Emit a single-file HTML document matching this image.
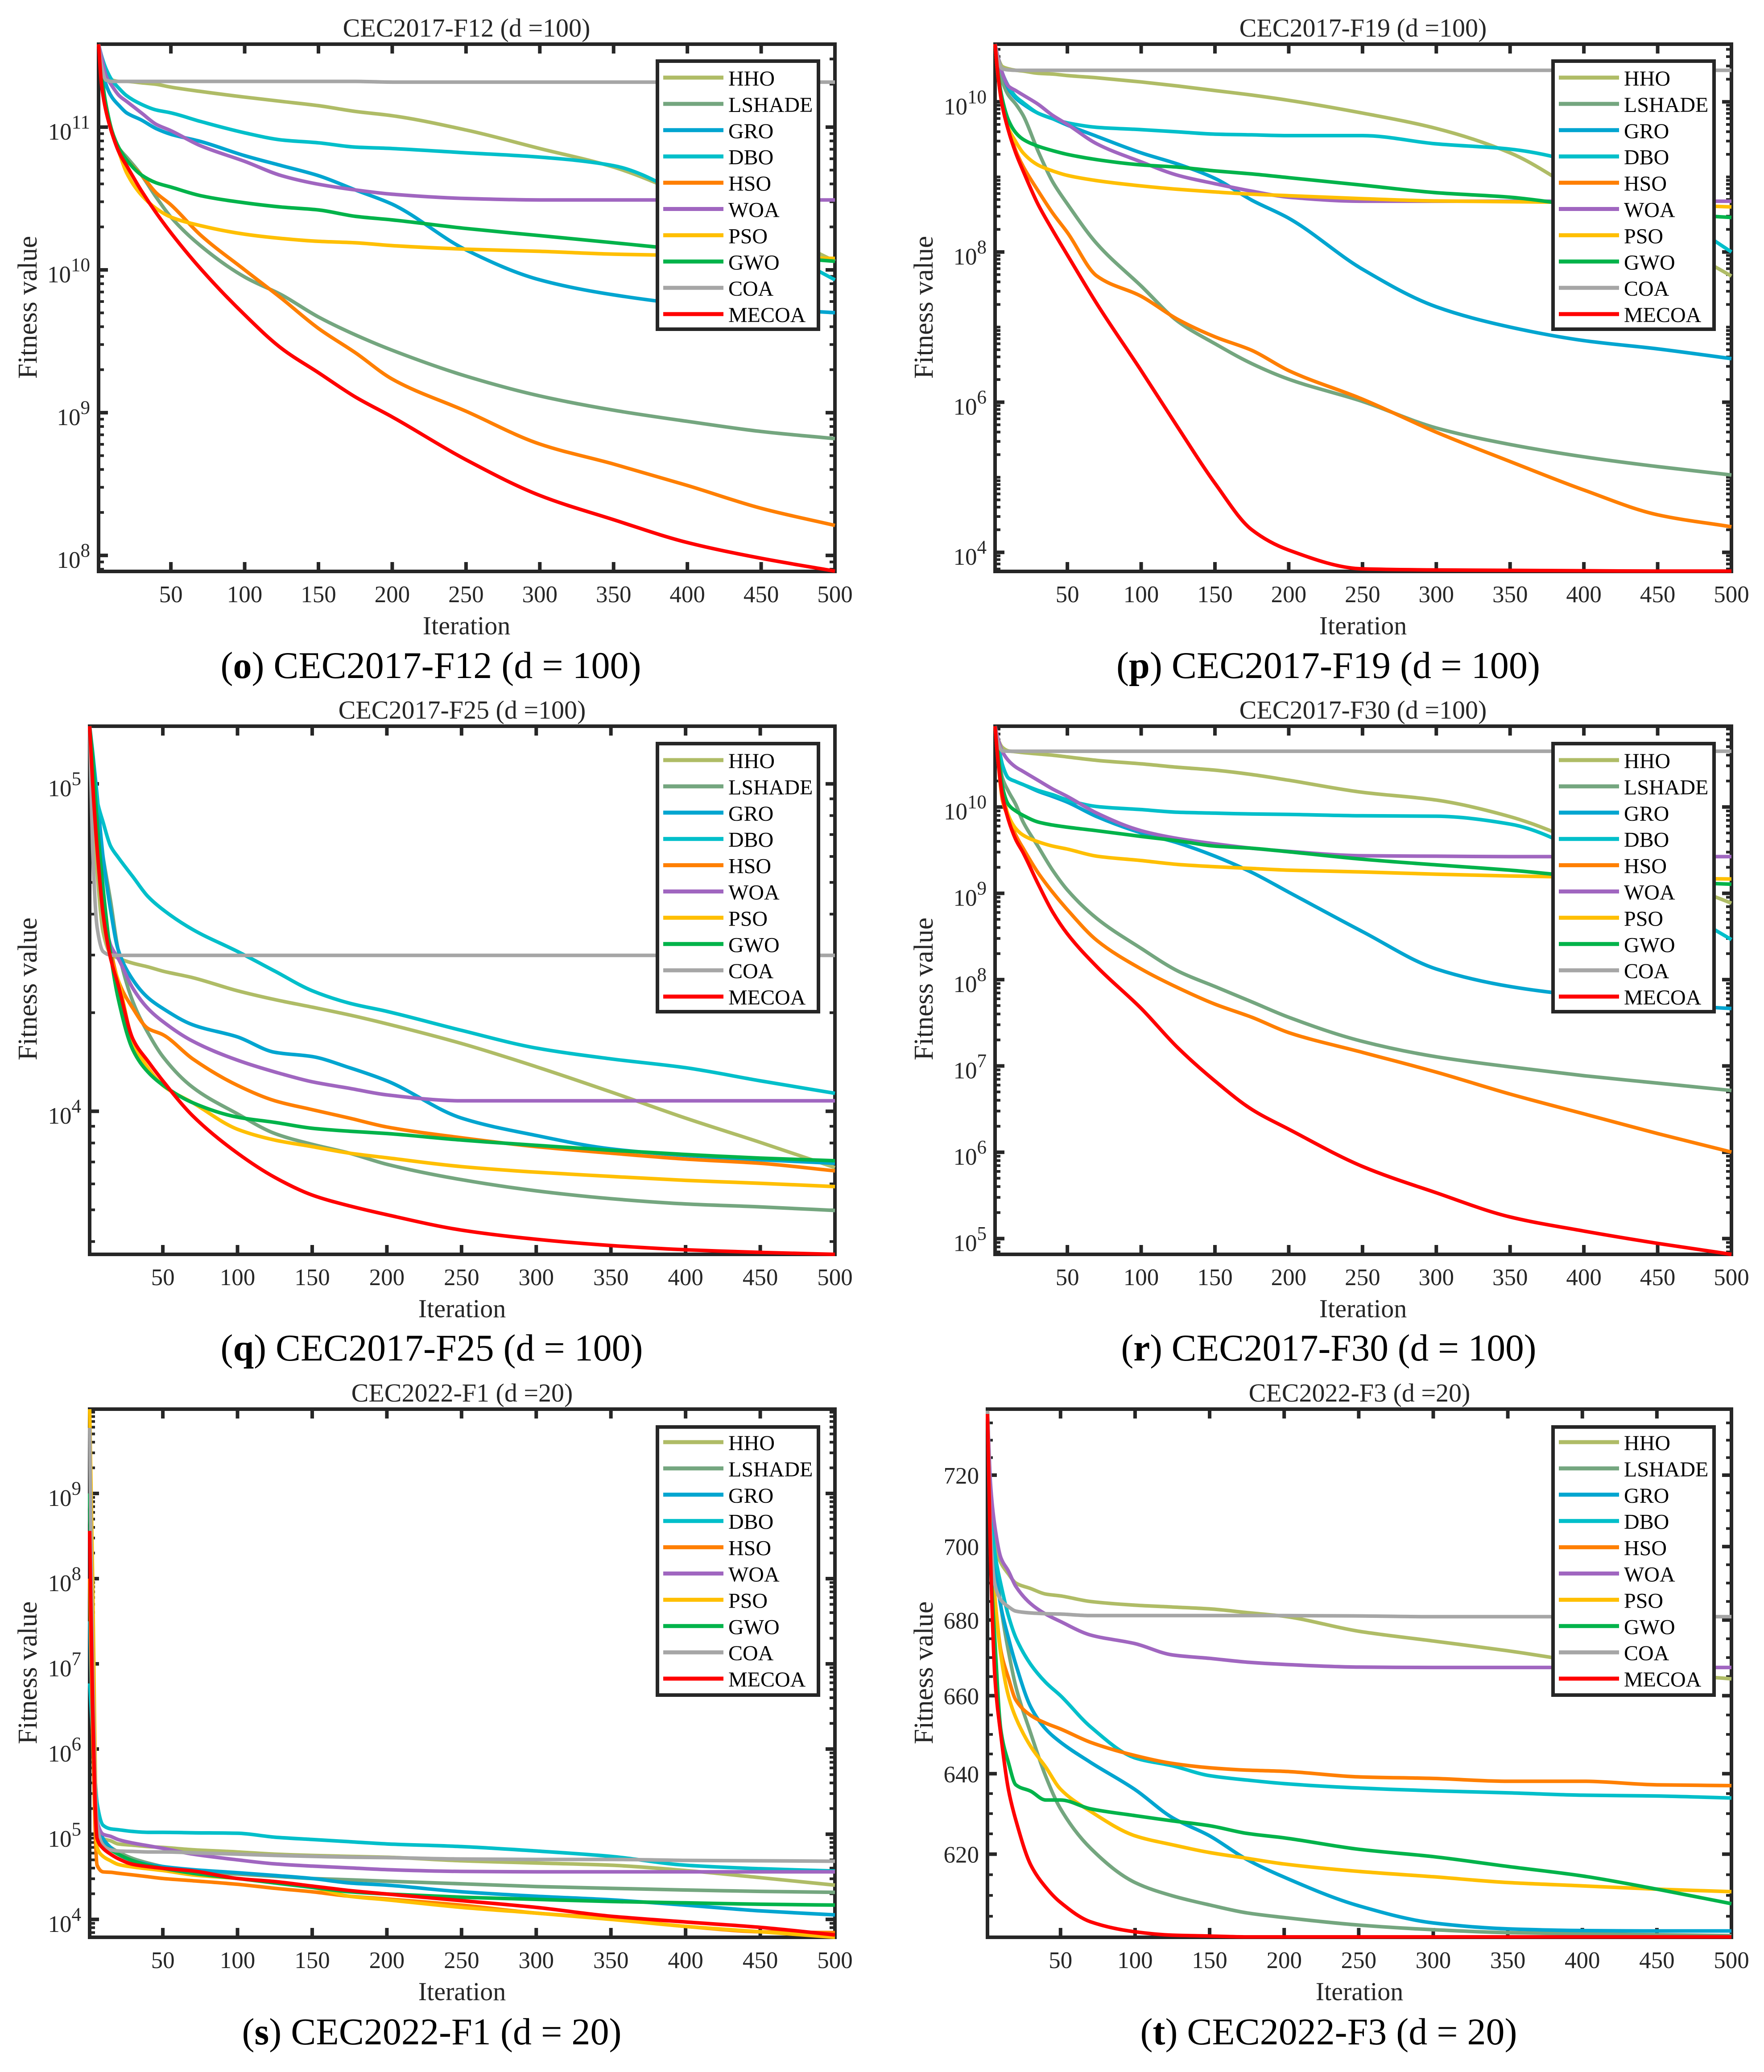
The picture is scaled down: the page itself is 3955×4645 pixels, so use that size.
<!DOCTYPE html>
<html lang="en">
<head>
<meta charset="utf-8">
<title>Convergence curves CEC2017 / CEC2022</title>
<style>
html,body{margin:0;padding:0;background:#fff;}
svg{display:block;}
text{font-family:"Liberation Serif",serif;fill:#262626;}
.title{font-size:58px;text-anchor:middle;}
.xlabel{font-size:58px;text-anchor:middle;}
.ylabel{font-size:61px;text-anchor:middle;}
.caption{font-size:85px;text-anchor:middle;fill:#000;}
.caption .letter{font-weight:bold;}
.tick-label{font-size:53px;}
.legend-label{font-size:48px;fill:#000;}
.curve{fill:none;stroke-width:8;stroke-linejoin:round;stroke-linecap:butt;}
.legend-line{stroke-width:9;}
.frame,.legend-box{stroke:#262626;stroke-width:8;}
.frame{fill:none;}
.legend-box{fill:#fff;}
.tick-major{stroke:#262626;stroke-width:8;}
.tick-minor{stroke:#262626;stroke-width:6;}
.c-HHO{stroke:#AFBC66;}
.c-LSHADE{stroke:#74A67F;}
.c-GRO{stroke:#00A5D0;}
.c-DBO{stroke:#00BFCA;}
.c-HSO{stroke:#FF7F00;}
.c-WOA{stroke:#A066C0;}
.c-PSO{stroke:#FFBF00;}
.c-GWO{stroke:#00B34A;}
.c-COA{stroke:#A6A6A6;}
.c-MECOA{stroke:#FF0000;}
</style>
</head>
<body>
<svg id="figure" xmlns="http://www.w3.org/2000/svg" width="3955" height="4645" viewBox="0 0 3955 4645">
  <rect x="0" y="0" width="3955" height="4645" fill="#fff"/>

  <g id="panel-o"></g>
  <g id="panel-p"></g>
  <g id="panel-q"></g>
  <g id="panel-r"></g>
  <g id="panel-s"></g>
  <g id="panel-t"></g>

  <text class="title" x="1046" y="82">CEC2017-F12 (d =100)</text>
  <text class="title" x="3056" y="82">CEC2017-F19 (d =100)</text>
  <text class="title" x="1036" y="1611">CEC2017-F25 (d =100)</text>
  <text class="title" x="3056" y="1611">CEC2017-F30 (d =100)</text>
  <text class="title" x="1036" y="3142">CEC2022-F1 (d =20)</text>
  <text class="title" x="3048" y="3142">CEC2022-F3 (d =20)</text>

  <text class="xlabel" x="1046" y="1422">Iteration</text>
  <text class="xlabel" x="3056" y="1422">Iteration</text>
  <text class="xlabel" x="1036" y="2953">Iteration</text>
  <text class="xlabel" x="3056" y="2953">Iteration</text>
  <text class="xlabel" x="1036" y="4484">Iteration</text>
  <text class="xlabel" x="3048" y="4484">Iteration</text>

  <text class="ylabel" transform="translate(82 689) rotate(-90)">Fitness value</text>
  <text class="ylabel" transform="translate(2091 689) rotate(-90)">Fitness value</text>
  <text class="ylabel" transform="translate(82 2217) rotate(-90)">Fitness value</text>
  <text class="ylabel" transform="translate(2091 2217) rotate(-90)">Fitness value</text>
  <text class="ylabel" transform="translate(82 3750) rotate(-90)">Fitness value</text>
  <text class="ylabel" transform="translate(2091 3750) rotate(-90)">Fitness value</text>

  <text class="caption" x="966" y="1520" textLength="943" lengthAdjust="spacingAndGlyphs">(<tspan class="letter">o</tspan>) CEC2017-F12 (d = 100)</text>
  <text class="caption" x="2978" y="1520" textLength="950" lengthAdjust="spacingAndGlyphs">(<tspan class="letter">p</tspan>) CEC2017-F19 (d = 100)</text>
  <text class="caption" x="968" y="3050" textLength="947" lengthAdjust="spacingAndGlyphs">(<tspan class="letter">q</tspan>) CEC2017-F25 (d = 100)</text>
  <text class="caption" x="2979" y="3050" textLength="931" lengthAdjust="spacingAndGlyphs">(<tspan class="letter">r</tspan>) CEC2017-F30 (d = 100)</text>
  <text class="caption" x="968" y="4583" textLength="851" lengthAdjust="spacingAndGlyphs">(<tspan class="letter">s</tspan>) CEC2022-F1 (d = 20)</text>
  <text class="caption" x="2979" y="4583" textLength="845" lengthAdjust="spacingAndGlyphs">(<tspan class="letter">t</tspan>) CEC2022-F3 (d = 20)</text>
</svg>

<script>
// ---- shared categories ----
const algorithms = ["HHO","LSHADE","GRO","DBO","HSO","WOA","PSO","GWO","COA","MECOA"];
const iterations = [1,3,6,10,15,20,30,40,50,70,100,125,150,175,200,250,300,350,400,450,500];
const xTickValues = [50,100,150,200,250,300,350,400,450,500];

// ---- CEC2017-F12, values are log10(fitness) ----
const f12YTicks = [8,9,10,11];
const f12Hho = [11.58,11.49,11.38,11.33,11.32,11.32,11.31,11.30,11.28,11.25,11.21,11.18,11.15,11.11,11.08,10.98,10.85,10.72,10.52,10.31,10.06];
const f12Lshade = [11.58,11.395,11.146,10.96,10.85,10.79,10.665,10.51,10.37,10.17,9.95,9.825,9.67,9.545,9.437,9.256,9.117,9.017,8.939,8.868,8.818];
const f12Gro = [11.58,11.46,11.30,11.21,11.15,11.10,11.05,10.99,10.95,10.90,10.80,10.73,10.66,10.56,10.46,10.14,9.93,9.825,9.76,9.73,9.70];
const f12Dbo = [11.58,11.50,11.41,11.33,11.27,11.22,11.16,11.12,11.10,11.04,10.96,10.91,10.89,10.86,10.85,10.82,10.79,10.73,10.51,10.21,9.93];
const f12Hso = [11.58,11.36,11.15,10.96,10.85,10.77,10.665,10.54,10.456,10.245,10.0,9.80,9.59,9.42,9.235,9.01,8.78,8.64,8.49,8.33,8.21];
const f12Woa = [11.58,11.49,11.36,11.29,11.22,11.18,11.10,11.02,10.975,10.87,10.76,10.66,10.60,10.56,10.53,10.50,10.49,10.49,10.49,10.49,10.49];
const f12Pso = [11.58,11.36,11.15,10.975,10.82,10.68,10.525,10.43,10.37,10.31,10.25,10.22,10.20,10.19,10.17,10.145,10.13,10.11,10.10,10.09,10.08];
const f12Gwo = [11.58,11.36,11.16,10.975,10.85,10.77,10.665,10.61,10.58,10.52,10.47,10.44,10.42,10.375,10.35,10.29,10.24,10.19,10.14,10.10,10.06];
const f12Coa = [11.58,11.43,11.33,11.32,11.32,11.32,11.32,11.32,11.32,11.32,11.32,11.32,11.32,11.32,11.315,11.315,11.315,11.315,11.315,11.315,11.315];
const f12Mecoa = [11.58,11.30,11.115,10.96,10.82,10.73,10.555,10.40,10.26,10.01,9.685,9.45,9.28,9.11,8.97,8.67,8.42,8.25,8.09,7.98,7.89];

// ---- CEC2017-F19, values are log10(fitness) ----
const f19YTicks = [4,6,8,10];
const f19Hho = [10.768,10.59,10.47,10.44,10.42,10.41,10.38,10.37,10.35,10.32,10.265,10.21,10.15,10.09,10.02,9.85,9.645,9.32,8.76,8.23,7.68];
const f19Lshade = [10.768,10.47,10.265,10.09,9.97,9.82,9.35,8.936,8.64,8.11,7.547,7.074,6.779,6.513,6.306,6.01,5.656,5.437,5.272,5.142,5.03];
const f19Gro = [10.768,10.59,10.38,10.18,10.05,9.97,9.85,9.775,9.69,9.54,9.32,9.17,8.98,8.69,8.45,7.77,7.27,7.0,6.82,6.71,6.58];
const f19Dbo = [10.768,10.59,10.38,10.21,10.07,9.99,9.85,9.775,9.72,9.66,9.63,9.60,9.57,9.56,9.55,9.55,9.44,9.37,9.16,8.64,8.0];
const f19Hso = [10.768,10.35,9.94,9.65,9.35,9.14,8.82,8.52,8.26,7.68,7.41,7.10,6.87,6.69,6.42,6.04,5.60,5.21,4.83,4.50,4.34];
const f19Woa = [10.768,10.59,10.38,10.21,10.15,10.09,9.97,9.82,9.70,9.44,9.2,9.02,8.91,8.81,8.73,8.676,8.676,8.676,8.676,8.676,8.676];
const f19Pso = [10.768,10.35,9.94,9.65,9.47,9.32,9.16,9.08,9.02,8.95,8.88,8.835,8.80,8.77,8.75,8.71,8.68,8.67,8.66,8.635,8.60];
const f19Gwo = [10.768,10.38,10.03,9.76,9.59,9.50,9.41,9.35,9.30,9.23,9.16,9.13,9.08,9.04,8.99,8.89,8.79,8.73,8.61,8.52,8.46];
const f19Coa = [10.768,10.56,10.44,10.425,10.42,10.42,10.42,10.42,10.42,10.42,10.42,10.42,10.42,10.42,10.42,10.42,10.42,10.42,10.42,10.42,10.42];
const f19Mecoa = [10.768,10.35,9.94,9.62,9.32,9.08,8.64,8.29,7.96,7.31,6.42,5.66,4.92,4.30,4.03,3.78,3.765,3.76,3.755,3.75,3.75];

// ---- CEC2017-F25, values are log10(fitness) ----
const f25YTicks = [4,5];
const f25Hho = [5.176,5.004,4.736,4.548,4.481,4.468,4.452,4.441,4.428,4.408,4.368,4.341,4.318,4.294,4.267,4.207,4.136,4.059,3.979,3.905,3.828];
const f25Lshade = [5.176,5.031,4.897,4.776,4.642,4.495,4.334,4.24,4.167,4.073,3.992,3.932,3.899,3.872,3.838,3.791,3.757,3.733,3.717,3.708,3.697];
const f25Gro = [5.176,5.098,4.964,4.776,4.615,4.495,4.401,4.347,4.314,4.264,4.227,4.18,4.167,4.133,4.093,3.979,3.926,3.885,3.865,3.852,3.841];
const f25Dbo = [5.176,5.071,4.95,4.883,4.81,4.776,4.716,4.656,4.616,4.555,4.488,4.428,4.368,4.33,4.305,4.247,4.193,4.16,4.133,4.093,4.055];
const f25Hso = [5.176,5.004,4.803,4.629,4.495,4.401,4.314,4.253,4.234,4.16,4.079,4.032,4.005,3.979,3.952,3.919,3.892,3.872,3.854,3.841,3.818];
const f25Woa = [5.176,5.058,4.87,4.629,4.508,4.468,4.375,4.314,4.274,4.214,4.156,4.12,4.09,4.07,4.05,4.032,4.032,4.032,4.032,4.032,4.032];
const f25Pso = [5.176,5.031,4.803,4.629,4.468,4.401,4.213,4.133,4.079,4.026,3.945,3.912,3.892,3.872,3.858,3.831,3.814,3.801,3.789,3.78,3.77];
const f25Gwo = [5.176,5.084,4.883,4.682,4.481,4.347,4.187,4.12,4.08,4.026,3.982,3.966,3.948,3.939,3.932,3.912,3.896,3.881,3.868,3.857,3.849];
const f25Coa = [5.176,4.803,4.562,4.488,4.477,4.476,4.476,4.476,4.476,4.476,4.476,4.476,4.476,4.476,4.476,4.476,4.476,4.476,4.476,4.476,4.476];
const f25Mecoa = [5.176,5.004,4.803,4.602,4.468,4.388,4.22,4.153,4.093,3.986,3.872,3.798,3.744,3.711,3.684,3.637,3.609,3.59,3.577,3.569,3.563];

// ---- CEC2017-F30, values are log10(fitness) ----
const f30YTicks = [5,6,7,8,9,10];
const f30Hho = [10.936,10.79,10.69,10.65,10.64,10.63,10.615,10.60,10.58,10.54,10.50,10.46,10.427,10.376,10.31,10.17,10.08,9.888,9.57,9.217,8.886];
const f30Lshade = [10.936,10.64,10.336,10.183,10.03,9.827,9.547,9.268,9.039,8.708,8.362,8.098,7.92,7.742,7.564,7.284,7.106,6.989,6.887,6.801,6.715];
const f30Gro = [10.936,10.743,10.488,10.336,10.295,10.26,10.183,10.122,10.056,9.888,9.7,9.583,9.43,9.242,9.013,8.556,8.123,7.92,7.808,7.716,7.665];
const f30Dbo = [10.936,10.743,10.488,10.336,10.295,10.26,10.193,10.142,10.081,10.005,9.97,9.939,9.929,9.919,9.914,9.898,9.893,9.802,9.471,8.962,8.464];
const f30Hso = [10.936,10.539,10.081,9.878,9.674,9.522,9.242,9.013,8.81,8.454,8.123,7.905,7.716,7.564,7.386,7.157,6.928,6.674,6.445,6.216,6.002];
const f30Woa = [10.936,10.79,10.641,10.539,10.463,10.412,10.31,10.209,10.122,9.929,9.725,9.634,9.573,9.522,9.486,9.435,9.43,9.425,9.425,9.425,9.425];
const f30Pso = [10.936,10.59,10.183,9.903,9.751,9.674,9.598,9.547,9.512,9.43,9.38,9.334,9.308,9.288,9.268,9.247,9.222,9.201,9.186,9.176,9.166];
const f30Gwo = [10.936,10.641,10.234,10.03,9.954,9.903,9.827,9.791,9.766,9.725,9.659,9.608,9.547,9.522,9.481,9.395,9.329,9.268,9.191,9.14,9.105];
const f30Coa = [10.936,10.743,10.65,10.646,10.646,10.646,10.646,10.646,10.646,10.646,10.646,10.646,10.646,10.646,10.646,10.646,10.646,10.646,10.646,10.646,10.646];
const f30Mecoa = [10.936,10.539,10.132,9.853,9.624,9.471,9.115,8.784,8.53,8.149,7.666,7.208,6.826,6.496,6.267,5.835,5.53,5.25,5.087,4.944,4.817];

// ---- CEC2022-F1, values are log10(fitness) ----
const g1YTicks = [4,5,6,7,8,9];
const g1Hho = [9.0,6.72,5.157,4.949,4.923,4.886,4.871,4.855,4.845,4.818,4.792,4.766,4.751,4.74,4.73,4.688,4.662,4.636,4.574,4.49,4.402];
const g1Lshade = [9.0,6.72,5.053,4.896,4.845,4.792,4.714,4.662,4.62,4.569,4.532,4.506,4.48,4.465,4.449,4.418,4.386,4.365,4.345,4.329,4.318];
const g1Gro = [7.5,6.2,5.157,4.949,4.845,4.766,4.688,4.646,4.62,4.584,4.548,4.516,4.48,4.428,4.402,4.324,4.272,4.23,4.167,4.1,4.053];
const g1Dbo = [6.77,6.2,5.365,5.105,5.063,5.053,5.032,5.022,5.022,5.017,5.011,4.965,4.938,4.912,4.886,4.855,4.803,4.74,4.636,4.595,4.568];
const g1Hso = [8.0,6.2,4.636,4.558,4.553,4.542,4.522,4.501,4.48,4.454,4.412,4.365,4.324,4.272,4.24,4.167,4.074,4.011,3.918,3.855,3.845];
const g1Woa = [9.0,6.72,5.157,5.0,4.975,4.938,4.896,4.865,4.834,4.766,4.699,4.652,4.626,4.605,4.584,4.563,4.558,4.558,4.558,4.558,4.558];
const g1Pso = [9.99,8.0,4.845,4.74,4.688,4.646,4.615,4.594,4.574,4.522,4.48,4.428,4.376,4.272,4.23,4.141,4.074,4.0,3.918,3.855,3.79];
const g1Gwo = [9.0,6.72,5.053,4.871,4.818,4.766,4.688,4.636,4.6,4.542,4.48,4.428,4.376,4.324,4.298,4.261,4.235,4.21,4.194,4.178,4.168];
const g1Coa = [9.77,7.0,5.105,4.871,4.818,4.803,4.798,4.792,4.792,4.782,4.766,4.751,4.74,4.73,4.725,4.709,4.704,4.704,4.693,4.688,4.683];
const g1Mecoa = [8.56,6.5,4.949,4.834,4.766,4.714,4.646,4.62,4.6,4.569,4.48,4.444,4.391,4.339,4.298,4.22,4.141,4.037,3.97,3.907,3.818];

// ---- CEC2022-F3, values are raw fitness on a log axis ----
const g3YTicks = [620,640,660,680,700,720];
const g3MinorTicks = [605,610,615,625,630,635,645,650,655,665,670,675,685,690,695,705,710,715,725,730,735];
const g3Hho = [738.5,716.5,700.5,695.5,692.5,690,688.5,687,686.5,685,684,683.5,683,682,681,677,674.4,671.8,668.8,666,664.4];
const g3Lshade = [738.5,710.4,698,683.6,671.8,662.4,650.3,639.4,631.2,621.5,613.1,609.9,607.7,605.8,604.7,602.9,601.8,601.1,600.8,600.6,600.4];
const g3Gro = [738.5,710.4,695.7,683.6,675.3,668.2,657.1,651.4,648,642.9,636,629,624.5,618.7,614.4,607.5,603.4,602,601.6,601.5,601.5];
const g3Dbo = [738.5,710.4,698,689.6,681.2,675.3,668.2,663.5,660,652,644,642,639.5,638.4,637.5,636.4,635.7,635.2,634.6,634.4,633.9];
const g3Hso = [738.5,704,686,671.8,664.7,658.9,654.9,652.9,651.4,648,644.6,642.6,641.5,640.9,640.6,639.2,638.8,638.1,638.1,637.2,637];
const g3Woa = [738.5,717.7,705.4,696.9,693.3,689.1,684.4,681.6,679.6,676,673.7,670.7,669.8,668.8,668.2,667.5,667.4,667.4,667.4,667.4,667.4];
const g3Pso = [738.5,704,686,670.6,660,654.3,646.9,641.7,636.1,630.6,624.5,622.3,620.4,619,617.6,615.8,614.5,613.1,612.3,611.5,610.9];
const g3Gwo = [738.5,698,674.2,651,642.9,637.2,635.6,633.4,633.4,631.2,629.5,628.2,627,625.1,624,621.2,619.4,617,614.7,611.5,608];
const g3Coa = [738.5,704,689.6,685.4,683.6,682.4,681.9,681.7,681.6,681.2,681.2,681.2,681.2,681.2,681.2,681.1,680.9,680.9,680.9,680.9,680.9];
const g3Mecoa = [737.6,698,664.7,649.7,636.1,628.4,617.4,612,608.3,603.7,601.3,600.5,600.3,600.1,600.1,600.1,600.1,600.1,600.1,600.1,600.1];

// ---- panel layout (axes geometry and limits) ----
const panels = [
  {id:"panel-o", key:"f12", left:221,  right:1872, top:99,   bottom:1281, yHi:11.581, yLo:7.888, scale:"exp", ticks:f12YTicks, legendX:1474, legendY:137, rowOffset:37,
   series:[f12Hho,f12Lshade,f12Gro,f12Dbo,f12Hso,f12Woa,f12Pso,f12Gwo,f12Coa,f12Mecoa]},
  {id:"panel-p", key:"f19", left:2231, right:3882, top:99,   bottom:1281, yHi:10.768, yLo:3.746, scale:"exp", ticks:f19YTicks, legendX:3482, legendY:137, rowOffset:37,
   series:[f19Hho,f19Lshade,f19Gro,f19Dbo,f19Hso,f19Woa,f19Pso,f19Gwo,f19Coa,f19Mecoa]},
  {id:"panel-q", key:"f25", left:201,  right:1872, top:1628, bottom:2812, yHi:5.176,  yLo:3.563, scale:"exp", ticks:f25YTicks, legendX:1474, legendY:1667, rowOffset:37,
   series:[f25Hho,f25Lshade,f25Gro,f25Dbo,f25Hso,f25Woa,f25Pso,f25Gwo,f25Coa,f25Mecoa]},
  {id:"panel-r", key:"f30", left:2231, right:3882, top:1628, bottom:2812, yHi:10.936, yLo:4.817, scale:"exp", ticks:f30YTicks, legendX:3482, legendY:1667, rowOffset:37,
   series:[f30Hho,f30Lshade,f30Gro,f30Dbo,f30Hso,f30Woa,f30Pso,f30Gwo,f30Coa,f30Mecoa]},
  {id:"panel-s", key:"cec2022-f1", left:201, right:1872, top:3159, bottom:4343, yHi:9.99, yLo:3.79, scale:"exp", ticks:g1YTicks, legendX:1474, legendY:3199, rowOffset:34,
   series:[g1Hho,g1Lshade,g1Gro,g1Dbo,g1Hso,g1Woa,g1Pso,g1Gwo,g1Coa,g1Mecoa]},
  {id:"panel-t", key:"cec2022-f3", left:2214, right:3882, top:3159, bottom:4343, yHi:739, yLo:600, scale:"raw", ticks:g3YTicks, minor:g3MinorTicks, legendX:3482, legendY:3199, rowOffset:34,
   series:[g3Hho,g3Lshade,g3Gro,g3Dbo,g3Hso,g3Woa,g3Pso,g3Gwo,g3Coa,g3Mecoa]}
];

const SVG_NS = "http://www.w3.org/2000/svg";
function make(tag, parent, cls) {
  const node = document.createElementNS(SVG_NS, tag);
  if (cls) node.setAttribute("class", cls);
  parent.appendChild(node);
  return node;
}

// monotone cubic path through the scaled data points
function monotonePath(xs, ys) {
  const n = xs.length;
  const slopes = [];
  for (let i = 0; i < n - 1; i++) slopes.push((ys[i + 1] - ys[i]) / (xs[i + 1] - xs[i]));
  const tangents = [slopes[0]];
  for (let i = 1; i < n - 1; i++) {
    const a = slopes[i - 1], b = slopes[i];
    if (a * b <= 0) {
      tangents.push(0);
    } else {
      const w1 = 2 * (xs[i + 1] - xs[i]) + (xs[i] - xs[i - 1]);
      const w2 = (xs[i + 1] - xs[i]) + 2 * (xs[i] - xs[i - 1]);
      tangents.push((w1 + w2) / (w1 / a + w2 / b));
    }
  }
  tangents.push(slopes[n - 2]);
  let d = "M" + xs[0].toFixed(1) + " " + ys[0].toFixed(1);
  for (let i = 0; i < n - 1; i++) {
    const h = (xs[i + 1] - xs[i]) / 3;
    d += "C" + (xs[i] + h).toFixed(1) + " " + (ys[i] + tangents[i] * h).toFixed(1) + " " +
         (xs[i + 1] - h).toFixed(1) + " " + (ys[i + 1] - tangents[i + 1] * h).toFixed(1) + " " +
         xs[i + 1].toFixed(1) + " " + ys[i + 1].toFixed(1);
  }
  return d;
}

panels.forEach(function (p) {
  const root = document.getElementById(p.id);
  const toAxis = p.scale === "raw" ? Math.log10 : function (v) { return v; };
  const axHi = toAxis(p.yHi), axLo = toAxis(p.yLo);
  const xOf = function (i) { return p.left + (i - 1) / 499 * (p.right - p.left); };
  const yOf = function (v) { return p.top + (axHi - toAxis(v)) / (axHi - axLo) * (p.bottom - p.top); };
  const yOfAxis = function (a) { return p.top + (axHi - a) / (axHi - axLo) * (p.bottom - p.top); };

  // minor y ticks
  const minorAxis = [];
  if (p.scale === "raw") {
    p.minor.forEach(function (m) { minorAxis.push(Math.log10(m)); });
  } else {
    for (let d = Math.floor(p.yLo); d <= Math.ceil(p.yHi); d++) {
      for (let m = 1; m <= 9; m++) {
        const a = d + Math.log10(m);
        if (a > p.yLo && a < p.yHi && !(m === 1 && p.ticks.indexOf(d) >= 0)) minorAxis.push(a);
      }
    }
  }
  minorAxis.forEach(function (a) {
    [[p.left, 12], [p.right, -12]].forEach(function (side) {
      const el = make("line", root, "tick-minor");
      
      
      el.setAttribute("x1", side[0]);
      el.setAttribute("x2", side[0] + side[1]);
      el.setAttribute("y1", yOfAxis(a));
      el.setAttribute("y2", yOfAxis(a));
    });
  });

  // major y ticks + labels
  p.ticks.forEach(function (t) {
    const yPos = p.scale === "raw" ? yOf(t) : yOfAxis(t);
    [[p.left, 21], [p.right, -21]].forEach(function (side) {
      const el = make("line", root, "tick-major");
      
      
      el.setAttribute("x1", side[0]);
      el.setAttribute("x2", side[0] + side[1]);
      el.setAttribute("y1", yPos);
      el.setAttribute("y2", yPos);
    });
    const label = make("text", root, "tick-label");
    
    
    label.setAttribute("text-anchor", "end");
    label.setAttribute("x", p.left - 19);
    if (p.scale === "raw") {
      label.setAttribute("y", yPos + 19);
      label.textContent = String(t);
    } else {
      label.setAttribute("y", yPos + 28);
      const base = make("tspan", label);
      base.textContent = "10";
      const sup = make("tspan", label);
      sup.setAttribute("dy", "-25");
      sup.setAttribute("font-size", "43");
      sup.textContent = String(t);
    }
  });

  // x ticks + labels
  xTickValues.forEach(function (t) {
    [[p.top, 21], [p.bottom, -21]].forEach(function (side) {
      const el = make("line", root, "tick-major");
      
      
      el.setAttribute("x1", xOf(t));
      el.setAttribute("x2", xOf(t));
      el.setAttribute("y1", side[0]);
      el.setAttribute("y2", side[0] + side[1]);
    });
    const label = make("text", root, "tick-label");
    
    
    label.setAttribute("text-anchor", "middle");
    label.setAttribute("x", xOf(t));
    label.setAttribute("y", p.bottom + 69);
    label.textContent = String(t);
  });

  // axes frame
  const frame = make("rect", root, "frame");
  
  
  frame.setAttribute("x", p.left);
  frame.setAttribute("y", p.top);
  frame.setAttribute("width", p.right - p.left);
  frame.setAttribute("height", p.bottom - p.top);

  // clip for curves
  const clip = make("clipPath", root);
  clip.setAttribute("id", "clip-" + p.id);
  const clipRect = make("rect", clip);
  clipRect.setAttribute("x", p.left - 4);
  clipRect.setAttribute("y", p.top - 4);
  clipRect.setAttribute("width", p.right - p.left + 8);
  clipRect.setAttribute("height", p.bottom - p.top + 8);

  // curves
  const pixelX = iterations.map(xOf);
  p.series.forEach(function (values, s) {
    const line = make("path", root, "curve c-" + algorithms[s]);
    
    
    line.setAttribute("d", monotonePath(pixelX, values.map(yOf)));
    line.setAttribute("clip-path", "url(#clip-" + p.id + ")");
  });

  // legend
  const legend = make("g", root);
  
  
  const box = make("rect", legend, "legend-box");
  
  
  box.setAttribute("x", p.legendX);
  box.setAttribute("y", p.legendY);
  box.setAttribute("width", 361);
  box.setAttribute("height", 601);
  algorithms.forEach(function (name, i) {
    const yRow = p.legendY + p.rowOffset + i * 58.9;
    const swatch = make("line", legend, "legend-line c-" + name);
    
    
    swatch.setAttribute("x1", p.legendX + 13);
    swatch.setAttribute("x2", p.legendX + 148);
    swatch.setAttribute("y1", yRow);
    swatch.setAttribute("y2", yRow);
    const text = make("text", legend, "legend-label");
    
    
    text.setAttribute("x", p.legendX + 159);
    text.setAttribute("y", yRow + 18);
    text.textContent = name;
  });
});
</script>
</body>
</html>
